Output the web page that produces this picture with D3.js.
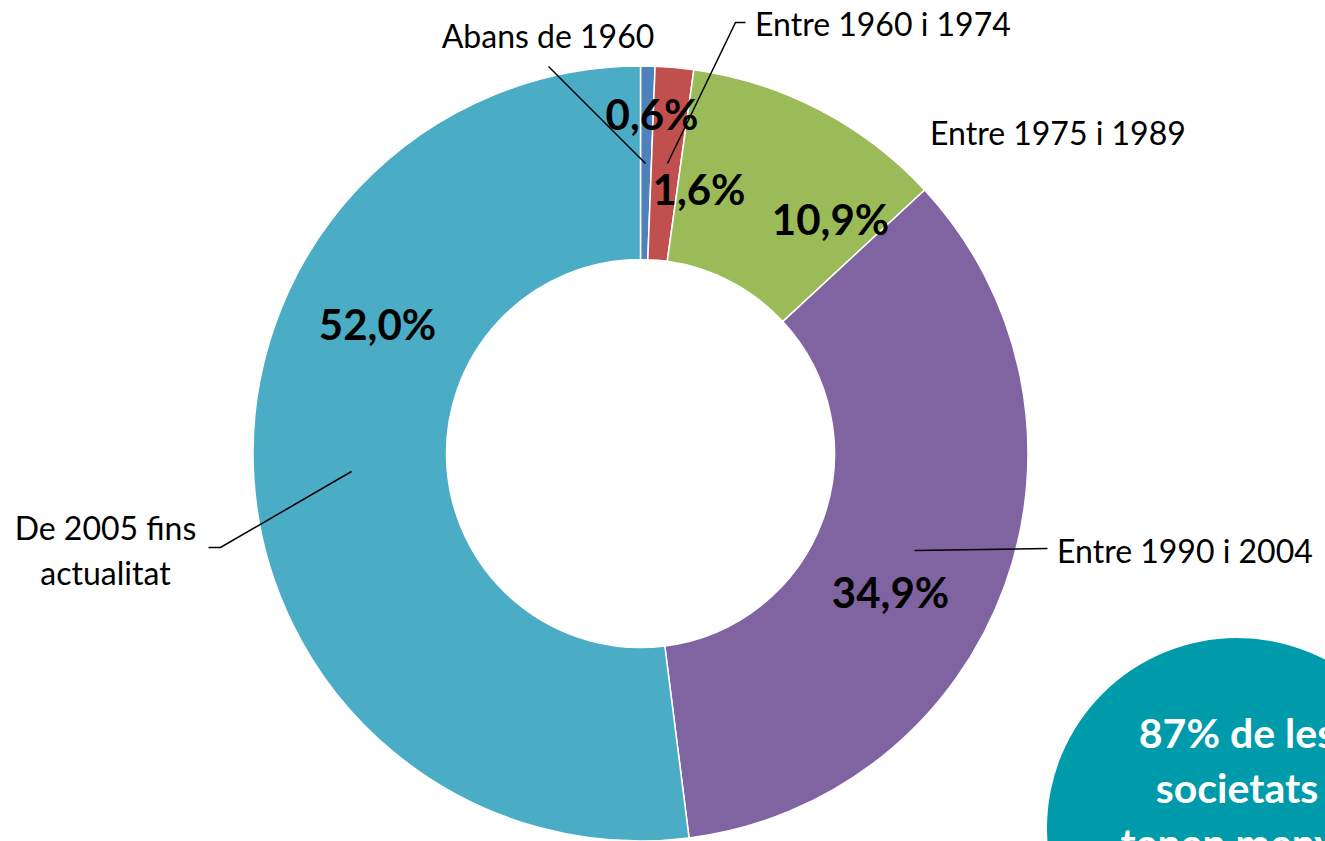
<!DOCTYPE html>
<html>
<head>
<meta charset="utf-8">
<script src="https://cdn.jsdelivr.net/npm/d3@7"></script>
<style>
  body { margin: 0; background: #fff; }
  svg { display: block; font-family: Lato, 'Open Sans', sans-serif; }
</style>
</head>
<body>
<div class="holder"></div>
<script>
const width = 1325;
const height = 841;

// data
const categories = ['Abans de 1960', 'Entre 1960 i 1974', 'Entre 1975 i 1989', 'Entre 1990 i 2004', 'De 2005 fins actualitat'];
const values = [0.6, 1.6, 10.9, 34.9, 52.0];
const valueLabels = ['0,6%', '1,6%', '10,9%', '34,9%', '52,0%'];
const colors = ['#4f81bd', '#c0504d', '#9bbb59', '#8064a2', '#4bacc6'];
const calloutLines = ['87% de les', 'societats', 'tenen menys'];

const cx = 640.5;
const cy = 453.5;
const outerR = 387.5;
const innerR = 194;

// label layout (relative to centre)
const pctPos = [[11.5, -323.5], [58.5, -248.5], [190, -218.5], [250, 154.5], [-263, -113.5]];
const namePos = [[-92.5, -405.5], [114.5, -417.5], [289.5, -308.5], [416.5, 109.5], [-535, 86.5]];
const nameAnchor = ['middle', 'start', 'start', 'start', 'middle'];
const leaders = [
  [[-92, -387], [5, -290]],
  [[105, -431], [95, -431], [27, -290]],
  null,
  [[274, 97], [407, 95]],
  [[-289, 18], [-420, 94], [-432, 94]]
];

const svg = d3.select('.holder')
  .append('svg')
  .attr('width', width)
  .attr('height', height);

const pie = d3.pie().sort(null).value(d => d);
const arc = d3.arc().innerRadius(innerR).outerRadius(outerR);
const arcs = pie(values);

const g = svg.append('g').attr('transform', `translate(${cx},${cy})`);

g.selectAll('path.slice')
  .data(arcs)
  .enter()
  .append('path')
  .attr('class', 'slice')
  .attr('d', arc)
  .attr('fill', (d, i) => colors[i])
  .attr('stroke', '#fff')
  .attr('stroke-width', 1.5);

// leader lines
g.selectAll('path.leader')
  .data(leaders.filter(l => l))
  .enter()
  .append('path')
  .attr('class', 'leader')
  .attr('d', d => d3.line()(d))
  .attr('fill', 'none')
  .attr('stroke', '#000')
  .attr('stroke-width', 1.5);

// percent labels
g.selectAll('text.pct')
  .data(valueLabels)
  .enter()
  .append('text')
  .attr('class', 'pct')
  .attr('x', (d, i) => pctPos[i][0])
  .attr('y', (d, i) => pctPos[i][1])
  .attr('text-anchor', 'middle')
  .attr('font-size', 42)
  .attr('font-weight', 'bold')
  .attr('fill', '#000')
  .text(d => d);

// category labels
const names = g.selectAll('text.name')
  .data(categories)
  .enter()
  .append('text')
  .attr('class', 'name')
  .attr('x', (d, i) => namePos[i][0])
  .attr('y', (d, i) => namePos[i][1])
  .attr('text-anchor', (d, i) => nameAnchor[i])
  .attr('font-size', 32)
  .attr('fill', '#000');

names.each(function (d, i) {
  const t = d3.select(this);
  if (i === 4) {
    t.append('tspan').attr('x', namePos[i][0]).attr('dy', 0).text('De 2005 fins');
    t.append('tspan').attr('x', namePos[i][0]).attr('dy', 45).text('actualitat');
  } else {
    t.text(d);
  }
});

// callout bubble
const bubble = svg.append('g').attr('transform', 'translate(1237,828)');
bubble.append('circle')
  .attr('r', 190)
  .attr('fill', '#009baa');

bubble.selectAll('text')
  .data(calloutLines)
  .enter()
  .append('text')
  .attr('x', 0)
  .attr('y', (d, i) => -80 + i * 55)
  .attr('text-anchor', 'middle')
  .attr('font-size', 41)
  .attr('font-weight', 'bold')
  .attr('fill', '#fff')
  .text(d => d);
</script>
</body>
</html>
